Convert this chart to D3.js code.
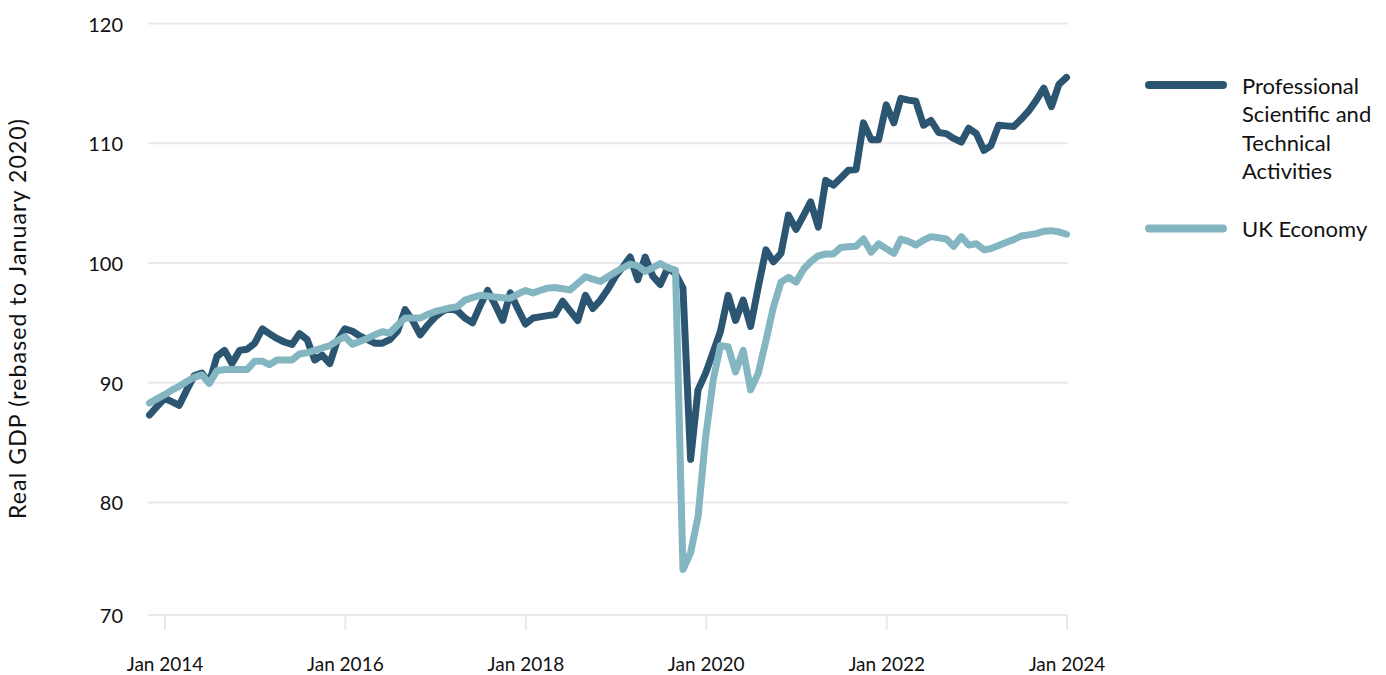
<!DOCTYPE html>
<html>
<head>
<meta charset="utf-8">
<script src="https://cdn.jsdelivr.net/npm/d3@7"></script>
<style>
  html, body { margin: 0; padding: 0; background: #ffffff; }
  svg { display: block; font-family: Lato, "Open Sans", sans-serif; }
</style>
</head>
<body>
<svg id="chart" width="1386" height="675"></svg>
<script>
// ---- data (monthly, first month Nov 2013) ----
const startMonth = "2013-11-01";
const seriesNames = ["Professional Scientific and Technical Activities", "UK Economy"];
const pstValues = [
  87.3, 88.0, 88.7, 88.4, 88.1, 89.4, 90.6, 90.8, 90.0, 92.2,
  92.7, 91.6, 92.7, 92.8, 93.3, 94.5, 94.1, 93.7, 93.4, 93.2,
  94.1, 93.6, 91.9, 92.3, 91.6, 93.5, 94.5, 94.3, 93.9, 93.6,
  93.3, 93.3, 93.6, 94.3, 96.1, 95.2, 94.0, 94.8, 95.5, 96.0,
  96.2, 96.0, 95.4, 95.0, 96.4, 97.7, 96.5, 95.2, 97.5, 96.2,
  94.9, 95.4, 95.5, 95.6, 95.7, 96.8, 96.0, 95.2, 97.3, 96.2,
  96.9, 97.8, 98.9, 99.7, 100.5, 98.6, 100.5, 98.9, 98.2, 99.6,
  99.1, 97.9, 83.6, 89.4, 90.8, 92.6, 94.3, 97.3, 95.2, 96.9,
  94.7, 98.0, 101.1, 100.1, 100.8, 104.0, 102.8, 104.0, 105.1, 103.0,
  106.9, 106.5, 107.1, 107.75, 107.8, 111.7, 110.3, 110.3, 113.2, 111.7,
  113.75, 113.6, 113.5, 111.5, 111.9, 110.9, 110.8, 110.4, 110.1, 111.25,
  110.8, 109.4, 109.8, 111.5, 111.45, 111.4, 112.0, 112.7, 113.6, 114.6,
  113.05, 114.9, 115.5
];
const ukValues = [
  88.3, 88.65, 89.0, 89.4, 89.7, 90.1, 90.45, 90.65, 89.95, 91.0,
  91.1, 91.1, 91.1, 91.1, 91.8, 91.8, 91.5, 91.9, 91.9, 91.9,
  92.4, 92.5, 92.7, 92.9, 93.1, 93.5, 93.85, 93.2, 93.45, 93.7,
  94.0, 94.25, 94.15, 94.8, 95.4, 95.4, 95.4, 95.7, 95.95, 96.1,
  96.25, 96.35, 96.9, 97.1, 97.3, 97.25, 97.15, 97.1, 97.05, 97.4,
  97.7, 97.5, 97.7, 97.9, 97.95, 97.85, 97.75, 98.3, 98.85, 98.65,
  98.45, 98.85, 99.25, 99.6, 99.9, 99.75, 99.3, 99.6, 99.95, 99.6,
  99.4, 74.4, 75.8, 78.8, 85.5, 90.3, 93.1, 93.0, 90.9, 92.7,
  89.4, 90.8, 93.5, 96.3, 98.4, 98.8, 98.4, 99.5, 100.1, 100.6,
  100.75, 100.75, 101.3, 101.35, 101.4, 102.0, 100.9, 101.6, 101.2, 100.8,
  102.0, 101.8, 101.5, 101.9, 102.2, 102.1, 102.0, 101.4, 102.2, 101.5,
  101.6, 101.1, 101.2, 101.45, 101.7, 101.95, 102.25, 102.35, 102.45, 102.65,
  102.7, 102.6, 102.4
];
const yTicks = [70, 80, 90, 100, 110, 120];
const xTickYears = [2014, 2016, 2018, 2020, 2022, 2024];
const yTitle = "Real GDP (rebased to January 2020)";
const legendLines = [["Professional", "Scientific and", "Technical", "Activities"], ["UK Economy"]];

// ---- styles / layout ----
const colors = ["#2c5572", "#84b6c1"];
const plotLeft = 148, plotRight = 1068, plotTop = 23.5, plotBottom = 615;

const svg = d3.select("#chart");
const t0 = d3.isoParse(startMonth);
const dates = pstValues.map((_, i) => d3.timeMonth.offset(t0, i));

const x = d3.scaleTime()
  .domain([dates[0], dates[dates.length - 1]])
  .range([149.5, 1066.5]);

const y = d3.scaleLinear()
  .domain([70.6, 120])
  .range([plotBottom, plotTop])
  .clamp(true);

// gridlines
svg.append("g").selectAll("line")
  .data(yTicks)
  .join("line")
  .attr("x1", plotLeft).attr("x2", plotRight)
  .attr("y1", d => y(d)).attr("y2", d => y(d))
  .attr("stroke", "#e9e9eb").attr("stroke-width", 2);

// y tick labels
svg.append("g").selectAll("text")
  .data(yTicks)
  .join("text")
  .attr("x", 123).attr("y", d => y(d))
  .attr("text-anchor", "end")
  .attr("dominant-baseline", "central")
  .attr("font-size", 20)
  .attr("fill", "#111")
  .text(d => d);

// x axis (ticks)
const xTickDates = xTickYears.map(yr => new Date(yr, 0, 1));
const xAxis = d3.axisBottom(x)
  .tickValues(xTickDates)
  .tickFormat(d3.timeFormat("Jan %Y"))
  .tickSize(15)
  .tickPadding(28);
const gx = svg.append("g").attr("transform", `translate(0,${plotBottom})`).call(xAxis);
gx.select(".domain").remove();
gx.selectAll(".tick line").attr("stroke", "#e9e9eb").attr("stroke-width", 2);
gx.selectAll(".tick text")
  .attr("font-size", 19)
  .attr("font-family", "Lato, sans-serif")
  .attr("fill", "#111");

// y title
svg.append("text")
  .attr("transform", "translate(26,319) rotate(-90)")
  .attr("text-anchor", "middle")
  .attr("font-size", 23)
  .attr("textLength", 400)
  .attr("lengthAdjust", "spacing")
  .attr("fill", "#111")
  .text(yTitle);

// lines
const line = d3.line()
  .x((d, i) => x(dates[i]))
  .y(d => y(d));

[pstValues, ukValues].forEach((vals, k) => {
  svg.append("path")
    .datum(vals)
    .attr("d", line)
    .attr("fill", "none")
    .attr("stroke", colors[k])
    .attr("stroke-width", 7)
    .attr("stroke-linejoin", "round")
    .attr("stroke-linecap", "round");
});

// legend
const legendY = [85, 228.5];
legendLines.forEach((lines, k) => {
  const g = svg.append("g").attr("transform", `translate(0,${legendY[k]})`);
  g.append("line")
    .attr("x1", 1149).attr("x2", 1223)
    .attr("y1", 0).attr("y2", 0)
    .attr("stroke", colors[k]).attr("stroke-width", 8)
    .attr("stroke-linecap", "round");
  lines.forEach((txt, j) => {
    g.append("text")
      .attr("x", 1242).attr("y", j * 28.6)
      .attr("dominant-baseline", "central")
      .attr("font-size", 22)
      .attr("fill", "#111")
      .text(txt);
  });
});
</script>
</body>
</html>
